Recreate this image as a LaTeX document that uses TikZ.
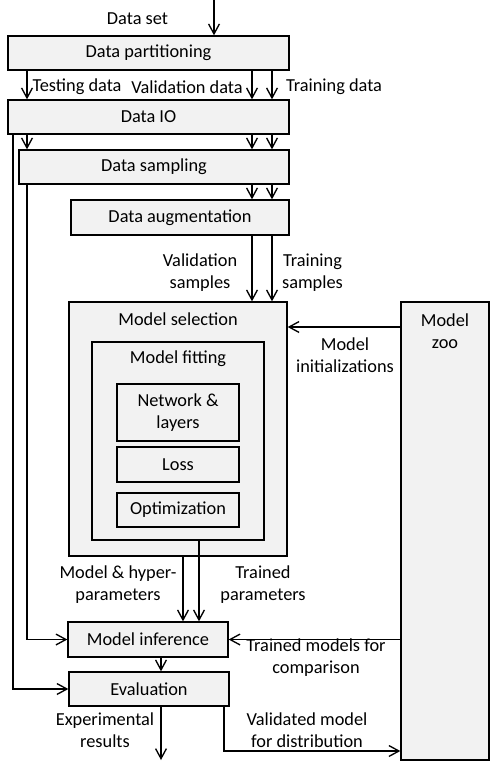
\documentclass[tikz,border=0pt]{standalone}
\usepackage{fontspec}
\setmainfont{Carlito}
\usetikzlibrary{arrows.meta}
\definecolor{boxfill}{RGB}{242,242,242}
\tikzset{
  blk/.style={draw, fill=boxfill, line width=0.8pt, inner sep=0pt, align=center},
  lbl/.style={align=center, inner sep=0pt},
  flow/.style={-{Straight Barb[length=6pt,width=6.5pt]}, line width=0.8pt},
}

\begin{document}
\begin{tikzpicture}[x=0.6pt, y=-0.6pt, font=\fontsize{11}{13.2}\selectfont]
        \useasboundingbox (0,0) rectangle (496,763);
        % columns and rows of the connectors
        \coordinate (in) at (214,0);
        \coordinate (out) at (161,760);
        \coordinate (xev) at (13,0);
        \coordinate (xtest) at (27,0);
        \coordinate (xval) at (252,0);
        \coordinate (xtrain) at (272,0);
        \coordinate (xhyp) at (183,0);
        \coordinate (xtrp) at (199,0);
        \coordinate (xmid) at (161,0);
        \coordinate (xdist) at (224,0);
        \coordinate (yinit) at (0,327);
        \coordinate (ydist) at (0,751);
        % boxes
        \node [blk, minimum width=168.6pt, minimum height=20.4pt] (part) at (148.5, 53) {Data partitioning};
        \node [blk, minimum width=168.6pt, minimum height=20.4pt] (io) at (148.5, 117) {Data IO};
        \node [blk, minimum width=162pt, minimum height=20.4pt] (samp) at (154, 167) {Data sampling};
        \node [blk, minimum width=130.8pt, minimum height=21pt] (aug) at (180, 217.5) {Data augmentation};
        \node [blk, minimum width=130.8pt, minimum height=152.4pt] (sel) at (178, 429) {};
        \node [lbl] (seltitle) at (178, 319) {Model selection};
        \node [blk, minimum width=103.2pt, minimum height=118.8pt] (fit) at (178, 441) {};
        \node [lbl] (fittitle) at (178, 359) {Model fitting};
        \node [blk, minimum width=73.2pt, minimum height=34.2pt] (net) at (178, 412.5) {Network \&\\layers};
        \node [blk, minimum width=73.2pt, minimum height=21pt] (loss) at (178, 464.5) {Loss};
        \node [blk, minimum width=73.2pt, minimum height=20.4pt] (opt) at (178, 510) {Optimization};
        \node [blk, minimum width=52.8pt, minimum height=274.8pt] (zoo) at (445, 531) {};
        \node [lbl] (zootitle) at (445, 331) {Model\\zoo};
        \node [blk, minimum width=96pt, minimum height=21pt] (inf) at (148, 639.5) {Model inference};
        \node [blk, minimum width=96pt, minimum height=20.4pt] (eval) at (149, 689) {Evaluation};
        % connectors
        \draw [flow] (in) -- (part.north -| in);
        \draw [flow] (part.south -| xtest) -- (io.north -| xtest);
        \draw [flow] (part.south -| xval) -- (io.north -| xval);
        \draw [flow] (part.south -| xtrain) -- (io.north -| xtrain);
        \draw [flow] (io.south -| xtest) -- (samp.north -| xtest);
        \draw [flow] (io.south -| xval) -- (samp.north -| xval);
        \draw [flow] (io.south -| xtrain) -- (samp.north -| xtrain);
        \draw [flow] (samp.south -| xval) -- (aug.north -| xval);
        \draw [flow] (samp.south -| xtrain) -- (aug.north -| xtrain);
        \draw [flow] (aug.south -| xval) -- (sel.north -| xval);
        \draw [flow] (aug.south -| xtrain) -- (sel.north -| xtrain);
        \draw [flow] (zoo.west |- yinit) -- (sel.east |- yinit);
        \draw [flow] (sel.south -| xhyp) -- (inf.north -| xhyp);
        \draw [flow] (fit.south -| xtrp) -- (inf.north -| xtrp);
        \draw [flow] (zoo.west |- inf.east) -- (inf.east);
        \draw [flow] (inf.south -| xmid) -- (eval.north -| xmid);
        \draw [flow] (eval.south -| xmid) -- (out);
        \draw [flow] (eval.south -| xdist) |- (ydist -| zoo.west);
        \draw [flow] (samp.south -| xtest) |- (inf.west);
        \draw [flow] (io.south -| xev) |- (eval.west);
        % labels
        \node [lbl] (lset) at (137.5, 19) {Data set};
        \node [lbl] (ltest) at (77, 87) {Testing data};
        \node [lbl] (lval) at (187, 87) {Validation data};
        \node [lbl] (ltrain) at (334, 87) {Training data};
        \node [lbl] (lvals) at (200, 273) {Validation\\samples};
        \node [lbl] (ltrains) at (312.5, 273) {Training\\samples};
        \node [lbl] (linit) at (345, 355) {Model\\initializations};
        \node [lbl] (lhyp) at (118, 585) {Model \& hyper-\\parameters};
        \node [lbl] (ltrp) at (263, 585) {Trained\\parameters};
        \node [lbl] (lcomp) at (316, 658) {Trained models for\\comparison};
        \node [lbl] (lres) at (105, 730) {Experimental\\results};
        \node [lbl] (ldist) at (307, 730) {Validated model\\for distribution};
\end{tikzpicture}
\end{document}
